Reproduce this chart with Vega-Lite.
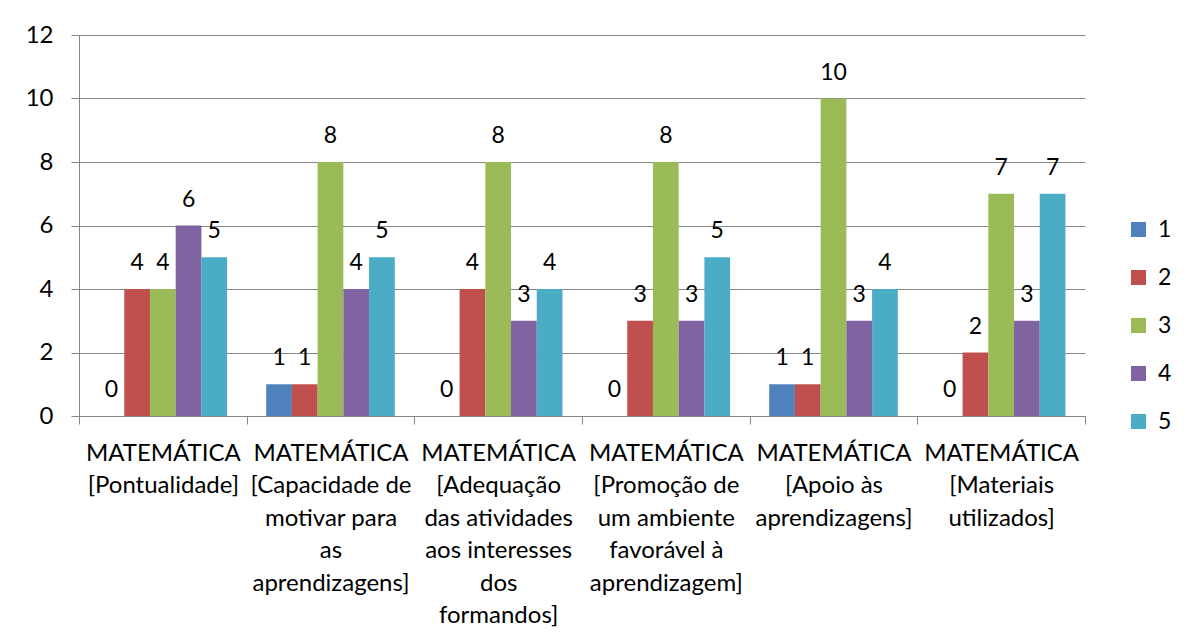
{
  "$schema": "https://vega.github.io/schema/vega-lite/v6.json",
  "width": 1006,
  "height": 381,
  "autosize": {"type": "none"},
  "padding": {"left": 79, "top": 35, "right": 103, "bottom": 225},
  "background": "white",
  "config": {"view": {"stroke": null}, "font": "Lato"},
  "data": {
    "values": [
      {"pergunta": "MATEMÁTICA|[Pontualidade]", "resposta": "1", "valor": 0},
      {"pergunta": "MATEMÁTICA|[Pontualidade]", "resposta": "2", "valor": 4},
      {"pergunta": "MATEMÁTICA|[Pontualidade]", "resposta": "3", "valor": 4},
      {"pergunta": "MATEMÁTICA|[Pontualidade]", "resposta": "4", "valor": 6},
      {"pergunta": "MATEMÁTICA|[Pontualidade]", "resposta": "5", "valor": 5},
      {"pergunta": "MATEMÁTICA|[Capacidade de|motivar para|as|aprendizagens]", "resposta": "1", "valor": 1},
      {"pergunta": "MATEMÁTICA|[Capacidade de|motivar para|as|aprendizagens]", "resposta": "2", "valor": 1},
      {"pergunta": "MATEMÁTICA|[Capacidade de|motivar para|as|aprendizagens]", "resposta": "3", "valor": 8},
      {"pergunta": "MATEMÁTICA|[Capacidade de|motivar para|as|aprendizagens]", "resposta": "4", "valor": 4},
      {"pergunta": "MATEMÁTICA|[Capacidade de|motivar para|as|aprendizagens]", "resposta": "5", "valor": 5},
      {"pergunta": "MATEMÁTICA|[Adequação|das atividades|aos interesses|dos|formandos]", "resposta": "1", "valor": 0},
      {"pergunta": "MATEMÁTICA|[Adequação|das atividades|aos interesses|dos|formandos]", "resposta": "2", "valor": 4},
      {"pergunta": "MATEMÁTICA|[Adequação|das atividades|aos interesses|dos|formandos]", "resposta": "3", "valor": 8},
      {"pergunta": "MATEMÁTICA|[Adequação|das atividades|aos interesses|dos|formandos]", "resposta": "4", "valor": 3},
      {"pergunta": "MATEMÁTICA|[Adequação|das atividades|aos interesses|dos|formandos]", "resposta": "5", "valor": 4},
      {"pergunta": "MATEMÁTICA|[Promoção de|um ambiente|favorável à|aprendizagem]", "resposta": "1", "valor": 0},
      {"pergunta": "MATEMÁTICA|[Promoção de|um ambiente|favorável à|aprendizagem]", "resposta": "2", "valor": 3},
      {"pergunta": "MATEMÁTICA|[Promoção de|um ambiente|favorável à|aprendizagem]", "resposta": "3", "valor": 8},
      {"pergunta": "MATEMÁTICA|[Promoção de|um ambiente|favorável à|aprendizagem]", "resposta": "4", "valor": 3},
      {"pergunta": "MATEMÁTICA|[Promoção de|um ambiente|favorável à|aprendizagem]", "resposta": "5", "valor": 5},
      {"pergunta": "MATEMÁTICA|[Apoio às|aprendizagens]", "resposta": "1", "valor": 1},
      {"pergunta": "MATEMÁTICA|[Apoio às|aprendizagens]", "resposta": "2", "valor": 1},
      {"pergunta": "MATEMÁTICA|[Apoio às|aprendizagens]", "resposta": "3", "valor": 10},
      {"pergunta": "MATEMÁTICA|[Apoio às|aprendizagens]", "resposta": "4", "valor": 3},
      {"pergunta": "MATEMÁTICA|[Apoio às|aprendizagens]", "resposta": "5", "valor": 4},
      {"pergunta": "MATEMÁTICA|[Materiais|utilizados]", "resposta": "1", "valor": 0},
      {"pergunta": "MATEMÁTICA|[Materiais|utilizados]", "resposta": "2", "valor": 2},
      {"pergunta": "MATEMÁTICA|[Materiais|utilizados]", "resposta": "3", "valor": 7},
      {"pergunta": "MATEMÁTICA|[Materiais|utilizados]", "resposta": "4", "valor": 3},
      {"pergunta": "MATEMÁTICA|[Materiais|utilizados]", "resposta": "5", "valor": 7}
    ]
  },
  "encoding": {
    "x": {
      "field": "pergunta",
      "type": "nominal",
      "sort": null,
      "scale": {"paddingInner": 0, "paddingOuter": 0},
      "axis": {
        "title": null,
        "labelAngle": 0,
        "labelExpr": "split(datum.label, '|')",
        "labelFontSize": 24,
        "labelLineHeight": 32.5,
        "labelBaseline": "top",
        "labelPadding": 17,
        "labelColor": "black",
        "labelLimit": 0,
        "tickBand": "extent",
        "tickSize": 8,
        "tickColor": "#868686",
        "domainColor": "#868686",
        "grid": false
      }
    },
    "xOffset": {
      "field": "resposta",
      "type": "nominal",
      "scale": {"paddingInner": 0, "paddingOuter": 0.76}
    },
    "y": {
      "field": "valor",
      "type": "quantitative",
      "scale": {"domain": [0, 12], "nice": false},
      "axis": {
        "title": null,
        "values": [0, 2, 4, 6, 8, 10, 12],
        "grid": true,
        "gridColor": "#868686",
        "domainColor": "#868686",
        "tickColor": "#868686",
        "tickSize": 8,
        "labelFontSize": 24,
        "labelColor": "black",
        "labelPadding": 18
      }
    }
  },
  "layer": [
    {
      "mark": {"type": "bar"},
      "encoding": {
        "color": {
          "field": "resposta",
          "type": "nominal",
          "scale": {
            "domain": ["1", "2", "3", "4", "5"],
            "range": ["#4F81BD", "#C0504D", "#9BBB59", "#8064A2", "#4BACC6"]
          },
          "legend": {
            "title": null,
            "orient": "none",
            "legendX": 1048,
            "legendY": 183,
            "symbolType": "square",
            "symbolSize": 225,
            "symbolStrokeWidth": 0,
            "labelFontSize": 23,
            "labelColor": "black",
            "labelOffset": 8,
            "rowPadding": 24,
            "padding": 0
          }
        }
      }
    },
    {
      "mark": {"type": "text", "baseline": "alphabetic", "dy": -19, "fontSize": 23, "color": "black"},
      "encoding": {"text": {"field": "valor", "type": "quantitative"}}
    }
  ]
}
